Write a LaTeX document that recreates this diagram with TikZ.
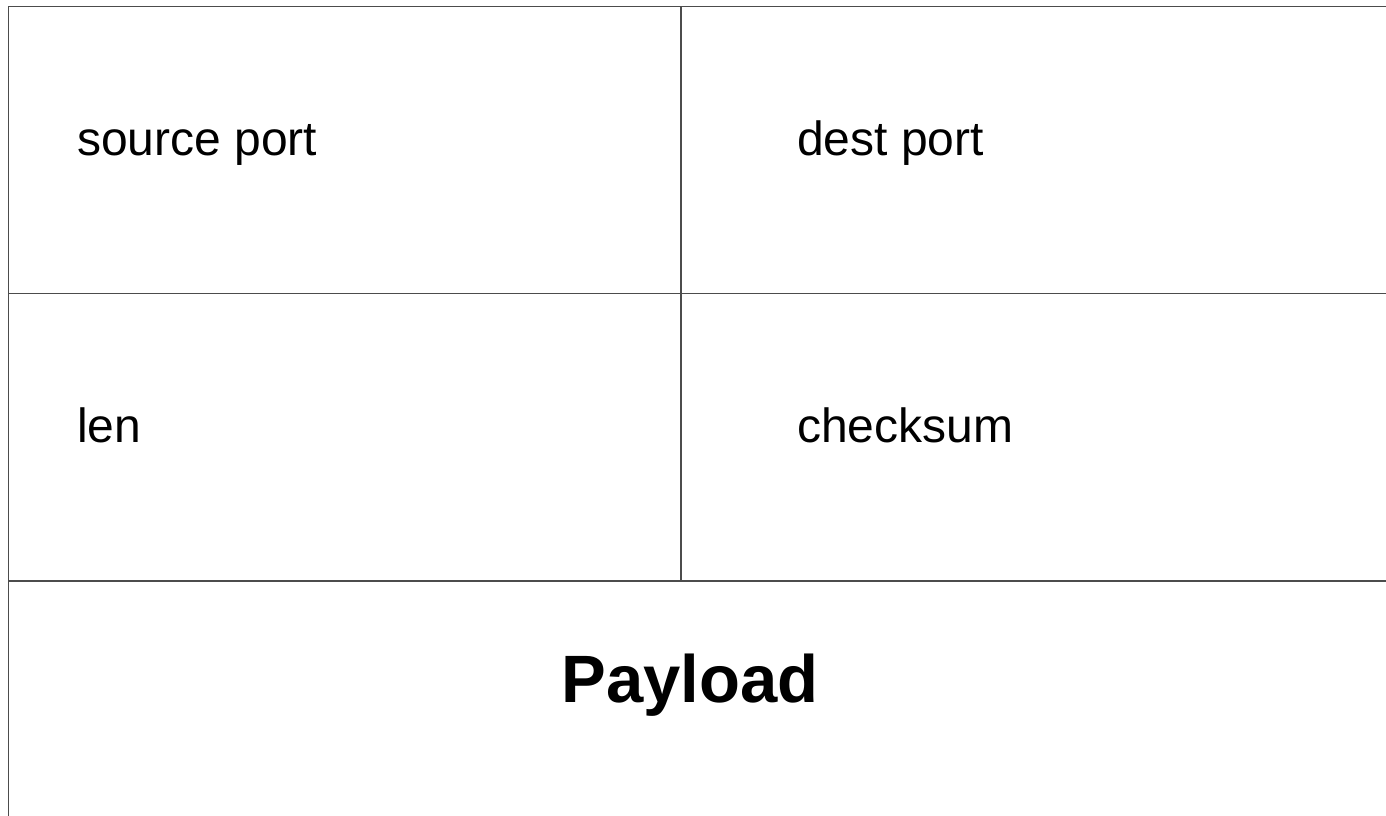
\documentclass[tikz,border=0pt]{standalone}
\usepackage{fontspec}
\setmainfont{Liberation Sans}
\begin{document}
\begin{tikzpicture}[x=1pt,y=-1pt,
  gridline/.style={draw=black!70,line width=1.3pt},
  fieldlabel/.style={anchor=base west,inner sep=0pt,font=\fontsize{48}{56}\selectfont},
  payloadlabel/.style={anchor=base,inner sep=0pt,font=\fontsize{67}{78}\selectfont\bfseries}]
\useasboundingbox (0,0) rectangle (1386,816);
\fill[white] (0,0) rectangle (1386,816);
% grid
\draw[gridline] (1386,6.5) -- (8.5,6.5) -- (8.5,816);
\draw[gridline] (681,6.5) -- (681,581);
\draw[gridline] (8.5,293.5) -- (1386,293.5);
\draw[gridline] (8.5,581) -- (1386,581);
% labels
\node[fieldlabel] (src) at (77,155) {source port};
\node[fieldlabel] (dst) at (797,155) {dest port};
\node[fieldlabel] (len) at (77,442) {len};
\node[fieldlabel] (chk) at (797,442) {checksum};
\node[payloadlabel] (pay) at (690,702) {Payload};
\end{tikzpicture}
\end{document}
